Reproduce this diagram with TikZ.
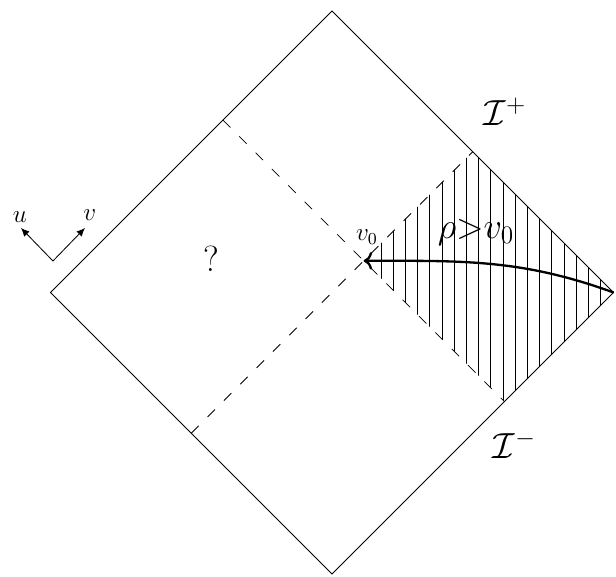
\documentclass[tikz,border=0pt]{standalone}
\usepackage{amsmath}
\usetikzlibrary{arrows.meta}
\tikzset{horizon/.style={dash pattern=on 5pt off 6pt}}
\begin{document}
\begin{tikzpicture}
\useasboundingbox (-5.554,-4.743) rectangle (4.751,4.893);
% corners of the diagram
\coordinate (L) at (-4.71,0);
\coordinate (T) at (0,4.71);
\coordinate (R) at (4.71,0);
\coordinate (B) at (0,-4.71);
% ends of the horizons
\coordinate (a1) at (-1.825,2.885);
\coordinate (a2) at (2.885,-1.825);
\coordinate (b1) at (-2.355,-2.355);
\coordinate (b2) at (2.355,2.355);
\coordinate (c) at (0.53,0.53);
\begin{scope}
\clip (c) -- (b2) -- (R) -- (a2) -- cycle;
\foreach \i in {0,...,19}
  \draw (0.82+0.204*\i,-3) -- (0.82+0.204*\i,3);
\end{scope}
\draw (L) -- (T) -- (R) -- (B) -- cycle;
\draw[horizon] (a1) -- (a2);
\draw[horizon] (b1) -- (b2);
\draw[line width=1.1pt,->] (R) to[out=160,in=0] (c);
\node (vz) at (0.585,0.93) {\large $v_0$};
\node (rho) at (2.41,1.01) {\LARGE $\rho{>}v_0$};
\node (q) at (-2.01,0.56) {\LARGE ?};
\node (scrip) at (2.894,3.028) {\LARGE $\mathcal{I}^+$};
\node (scrim) at (3.053,-2.551) {\LARGE $\mathcal{I}^-$};
% null directions
\coordinate (o) at (-4.668,0.527);
\coordinate (ut) at (-5.203,1.079);
\coordinate (vt) at (-4.133,1.079);
\draw[-{Latex[length=4pt,width=3.5pt]}] (o) -- (ut);
\draw[-{Latex[length=4pt,width=3.5pt]}] (o) -- (vt);
\node (ul) at (-5.22,1.27) {\large $u$};
\node (vl) at (-4.05,1.29) {\large $v$};
\end{tikzpicture}
\end{document}
